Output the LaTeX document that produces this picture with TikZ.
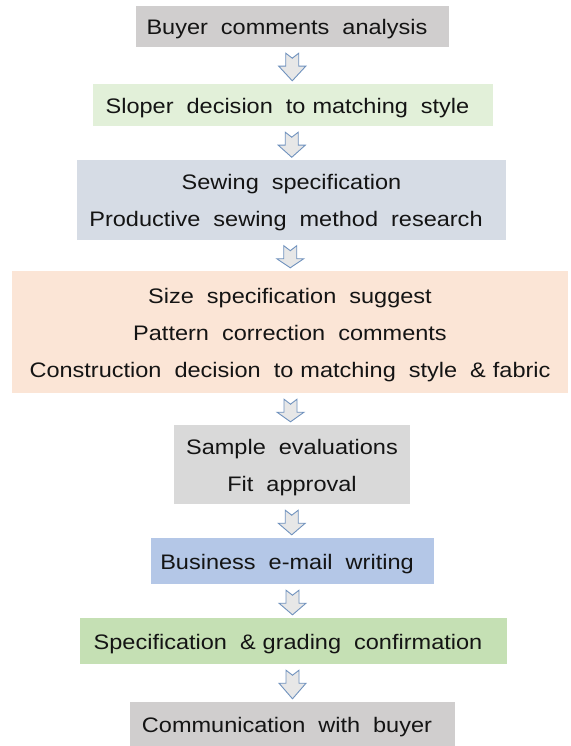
\documentclass[tikz,border=0pt]{standalone}
\usepackage{fontspec}
\setmainfont[FakeStretch=1.12]{Liberation Sans}
\usetikzlibrary{calc}
\definecolor{cgray}{HTML}{D0CECE}
\definecolor{cgreenl}{HTML}{E2F0D9}
\definecolor{cbluegray}{HTML}{D6DCE5}
\definecolor{cpeach}{HTML}{FBE5D6}
\definecolor{clgray}{HTML}{D9D9D9}
\definecolor{cblue}{HTML}{B4C7E7}
\definecolor{cgreen}{HTML}{C5E0B4}
\definecolor{arrfill}{HTML}{E7E7E7}
\definecolor{arrline}{HTML}{7092BE}
\definecolor{txt}{HTML}{141414}
\newcommand\ns{\hspace{7pt}}
\newcommand\tk{\kern11pt}
\newcommand\up{\rule{0pt}{21pt}}
\tikzset{
  boxnode/.style={draw=none, inner sep=0pt, align=center, text=txt,
    font={\fontsize{21}{37}\selectfont\spaceskip=13pt plus 1pt minus 1pt\relax}},
  blockarr/.style={draw=arrline, fill=arrfill, line width=0.9pt, line join=miter}
}
\begin{document}
\begin{tikzpicture}[x=1pt,y=-1pt]
\useasboundingbox[fill=white] (0,0) rectangle (570,746);
\node[boxnode, fill=cgray, minimum width=313pt, minimum height=41pt] (b1) at (292.5,26.5) {\up Buyer comments analysis\tk};
\node[boxnode, fill=cgreenl, minimum width=400pt, minimum height=42pt] (b2) at (293,105) {\up Sloper decision to\ns matching style\tk};
\node[boxnode, fill=cbluegray, minimum width=429pt, minimum height=79pt] (b3) at (291.5,200) {\up Sewing specification\\Productive sewing method research\tk};
\node[boxnode, fill=cpeach, minimum width=556pt, minimum height=122pt] (b4) at (290,332) {\up Size specification suggest\\Pattern correction comments\\Construction decision to\ns matching style \&\ns fabric};
\node[boxnode, fill=clgray, minimum width=236pt, minimum height=79pt] (b5) at (292,464.5) {\up Sample evaluations\\Fit approval};
\node[boxnode, fill=cblue, minimum width=283pt, minimum height=46pt] (b6) at (292.5,561) {\up Business e-mail writing\tk};
\node[boxnode, fill=cgreen, minimum width=427pt, minimum height=46pt] (b7) at (293.5,641) {\up Specification \&\ns grading confirmation\tk};
\node[boxnode, fill=cgray, minimum width=325pt, minimum height=44pt] (b8) at (292.5,724) {\up Communication with buyer\tk};
\foreach \a/\b in {b1/b2,b2/b3,b3/b4,b4/b5,b5/b6,b6/b7,b7/b8}{
  \draw[blockarr] let \p1=(\a.south), \p2=(\b.north), \n1={0.5*(\x1+\x2)-0.5pt}, \n2={\y1-6pt}, \n3={\y2+3pt} in
    (\n1-6.5pt,\n2) -- (\n1,\n2-5pt) -- (\n1+6.5pt,\n2) -- (\n1+6.5pt,\n2-13pt) -- (\n1+13.5pt,\n2-13pt)
    -- (\n1,\n3) -- (\n1-13.5pt,\n2-13pt) -- (\n1-6.5pt,\n2-13pt) -- cycle;
}
\end{tikzpicture}
\end{document}
